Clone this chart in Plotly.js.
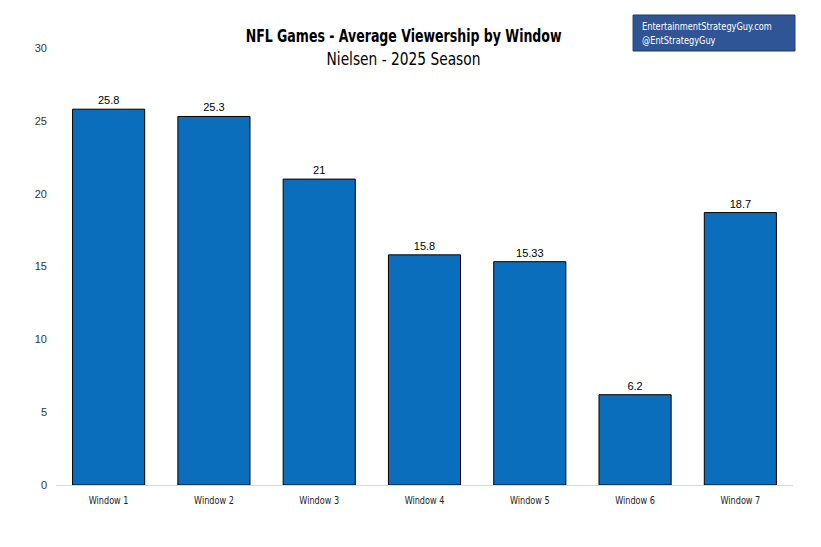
<!DOCTYPE html>
<html>
<head>
<meta charset="utf-8">
<script src="https://cdn.plot.ly/plotly-3.0.1.min.js"></script>
<style>html,body{margin:0;padding:0;background:#fff;}#chart{width:821px;height:547px;}</style>
</head>
<body>
<div id="chart"></div>
<script>
const categories = ["Window 1","Window 2","Window 3","Window 4","Window 5","Window 6","Window 7"];
const viewers = [25.8, 25.3, 21, 15.8, 15.33, 6.2, 18.7];
const valueLabels = ["25.8","25.3","21","15.8","15.33","6.2","18.7"];
const yTicks = [0,5,10,15,20,25,30];

const condensed = '"DejaVu Sans Condensed", "Liberation Sans Narrow", Arial, sans-serif';
const arial = '"Liberation Sans", Arial, sans-serif';

const trace = {
  type: 'bar',
  x: categories,
  y: viewers,
  text: valueLabels,
  textposition: 'outside',
  cliponaxis: false,
  textfont: {family: arial, size: 11, color: '#000'},
  marker: {color: '#0a6ebd', line: {color: '#000', width: 1}},
  hoverinfo: 'x+y'
};

const layout = {
  width: 821, height: 547,
  margin: {l: 56, r: 28, t: 48, b: 62},
  paper_bgcolor: '#fff', plot_bgcolor: '#fff',
  bargap: 0.315,
  showlegend: false,
  xaxis: {
    showgrid: false, showline: true, linecolor: '#d9d9d9', linewidth: 1,
    ticks: '', tickfont: {family: condensed, size: 11, color: '#222'},
    zeroline: false, ticklabelstandoff: 5
  },
  yaxis: {
    range: [0, 30], tickvals: yTicks, showgrid: false, zeroline: false,
    showline: false, ticks: '',
    tickfont: {family: arial, size: 11, color: '#333'},
    ticklabelstandoff: 8
  },
  shapes: [
    {type: 'rect', xref: 'paper', yref: 'paper', x0: 0.783, x1: 1.0027, y0: 0.9931, y1: 1.0755,
     fillcolor: '#2f5597', line: {color: '#1f3864', width: 1}}
  ],
  annotations: [
    {text: '<b>NFL Games - Average Viewership by Window</b>', xref: 'paper', yref: 'paper',
     x: (403 - 56) / 737, y: (485 - 36) / 437, xanchor: 'center', yanchor: 'middle',
     showarrow: false, font: {family: condensed, size: 17, color: '#000'}},
    {text: 'Nielsen - 2025 Season', xref: 'paper', yref: 'paper',
     x: (403 - 56) / 737, y: (485 - 59) / 437, xanchor: 'center', yanchor: 'middle',
     showarrow: false, font: {family: condensed, size: 17, color: '#000'}},
    {text: 'EntertainmentStrategyGuy.com<br>@EntStrategyGuy', xref: 'paper', yref: 'paper',
     x: (640 - 56) / 737, y: (485 - 33.5) / 437, xanchor: 'left', yanchor: 'middle', align: 'left',
     showarrow: false, font: {family: condensed, size: 11, color: '#fff'}}
  ]
};

function squeeze(el, ratio) {
  const lines = el.querySelectorAll('tspan.line');
  const targets = lines.length ? Array.from(lines) : [el];
  targets.forEach(t => {
    const len = t.getComputedTextLength();
    if (len > 0) {
      t.setAttribute('textLength', (len * ratio).toFixed(2));
      t.setAttribute('lengthAdjust', 'spacingAndGlyphs');
    }
  });
}

Plotly.newPlot('chart', [trace], layout, {displayModeBar: false, staticPlot: true}).then(gd => {
  const ratios = [0.82, 0.9, 0.83];
  gd.querySelectorAll('.annotation-text').forEach((el, i) => squeeze(el, ratios[i] || 0.82));
  gd.querySelectorAll('.xtick text').forEach(el => squeeze(el, 0.82));
});
</script>
</body>
</html>
